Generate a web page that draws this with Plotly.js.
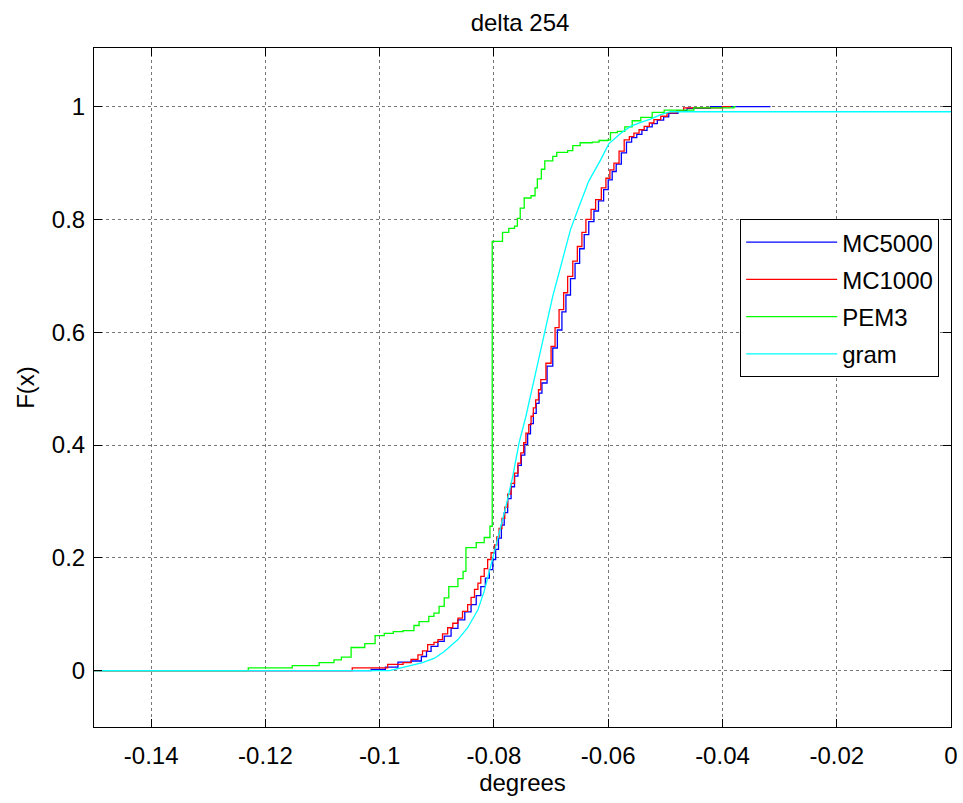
<!DOCTYPE html>
<html>
<head>
<meta charset="utf-8">
<script src="https://cdn.plot.ly/plotly-3.0.1.min.js"></script>
<style>html,body{margin:0;padding:0;background:#fff;}#chart{width:963px;height:803px;}</style>
</head>
<body>
<div id="chart"></div>
<script>
const seriesNames = ["MC5000", "MC1000", "PEM3", "gram"];
const seriesColors = ["#0000ff", "#ff0000", "#00ff00", "#00ffff"];

const mc5000X = [-0.15,-0.1015,-0.0990,-0.0968,-0.0945,-0.0927,-0.0918,-0.0910,-0.0898,-0.0887,-0.0875,-0.0863,-0.0851,-0.0840,-0.0831,-0.0823,-0.0815,-0.0808,-0.0802,-0.0797,-0.0792,-0.0787,-0.0782,-0.0776,-0.0770,-0.0764,-0.0758,-0.0752,-0.0746,-0.0741,-0.0736,-0.0731,-0.0726,-0.0721,-0.0716,-0.0707,-0.0697,-0.0689,-0.0681,-0.0674,-0.0666,-0.0658,-0.0650,-0.0642,-0.0634,-0.0625,-0.0617,-0.0608,-0.0600,-0.0593,-0.0586,-0.0577,-0.0568,-0.0559,-0.0550,-0.0541,-0.0532,-0.0523,-0.0514,-0.0503,-0.0494,-0.0478,-0.0462,-0.0421,-0.0316];
const mc5000Y = [0,0.002,0.006,0.015,0.017,0.025,0.034,0.043,0.052,0.061,0.075,0.090,0.104,0.117,0.133,0.149,0.164,0.179,0.197,0.215,0.235,0.258,0.280,0.305,0.326,0.345,0.364,0.382,0.401,0.420,0.438,0.456,0.474,0.492,0.510,0.540,0.572,0.604,0.636,0.666,0.695,0.722,0.748,0.773,0.796,0.815,0.833,0.853,0.870,0.885,0.898,0.918,0.937,0.945,0.951,0.958,0.964,0.970,0.976,0.982,0.988,0.993,0.997,1.0,1.0];

const mc1000X = [-0.15,-0.1048,-0.0986,-0.0959,-0.0945,-0.0933,-0.0925,-0.0916,-0.0905,-0.0898,-0.0890,-0.0881,-0.0872,-0.0863,-0.0855,-0.0846,-0.0840,-0.0834,-0.0828,-0.0823,-0.0817,-0.0811,-0.0805,-0.0799,-0.0795,-0.0791,-0.0786,-0.0781,-0.0776,-0.0770,-0.0764,-0.0758,-0.0753,-0.0748,-0.0744,-0.0739,-0.0735,-0.0731,-0.0727,-0.0722,-0.0718,-0.0709,-0.0700,-0.0693,-0.0686,-0.0678,-0.0671,-0.0662,-0.0654,-0.0646,-0.0639,-0.0630,-0.0622,-0.0612,-0.0604,-0.0597,-0.0590,-0.0581,-0.0572,-0.0563,-0.0555,-0.0546,-0.0537,-0.0528,-0.0520,-0.0508,-0.0497,-0.0480,-0.0468,-0.0400,-0.0385];
const mc1000Y = [0,0.005,0.011,0.014,0.020,0.028,0.035,0.046,0.050,0.055,0.065,0.076,0.084,0.093,0.105,0.117,0.130,0.144,0.155,0.167,0.181,0.197,0.209,0.223,0.237,0.252,0.270,0.290,0.313,0.332,0.350,0.368,0.386,0.404,0.421,0.436,0.451,0.466,0.480,0.498,0.516,0.545,0.575,0.608,0.640,0.670,0.699,0.726,0.752,0.777,0.800,0.818,0.835,0.856,0.873,0.888,0.900,0.921,0.941,0.947,0.953,0.959,0.965,0.971,0.977,0.983,0.989,0.993,0.998,1.0,1.0];

const pem3X = [-0.15,-0.1230,-0.1153,-0.1106,-0.1080,-0.1067,-0.1050,-0.1026,-0.1008,-0.0992,-0.0976,-0.0959,-0.0940,-0.0931,-0.0914,-0.0905,-0.0896,-0.0887,-0.0879,-0.0863,-0.0854,-0.0849,-0.0831,-0.0817,-0.0807,-0.0803,-0.0785,-0.0774,-0.0764,-0.0759,-0.0754,-0.0747,-0.0735,-0.0728,-0.0724,-0.0717,-0.0711,-0.0697,-0.0690,-0.0671,-0.0662,-0.0649,-0.0628,-0.0616,-0.0601,-0.0596,-0.0584,-0.0571,-0.0558,-0.0543,-0.0523,-0.0502,-0.0450,-0.0380,-0.0377];
const pem3Y = [0,0.005,0.009,0.014,0.019,0.024,0.041,0.048,0.062,0.066,0.069,0.071,0.080,0.087,0.096,0.102,0.114,0.129,0.149,0.163,0.176,0.218,0.227,0.236,0.256,0.761,0.777,0.784,0.788,0.802,0.820,0.838,0.842,0.856,0.872,0.889,0.904,0.912,0.919,0.922,0.931,0.936,0.937,0.940,0.941,0.954,0.956,0.964,0.975,0.981,0.990,0.994,0.998,1.0,1.0];

const gramX = [-0.15,-0.0983,-0.0957,-0.0925,-0.0904,-0.0887,-0.0863,-0.0846,-0.0828,-0.0817,-0.0808,-0.0802,-0.0790,-0.0779,-0.0767,-0.0756,-0.0744,-0.0730,-0.0712,-0.0697,-0.0683,-0.0666,-0.0651,-0.0634,-0.0613,-0.0599,-0.0578,-0.0561,-0.0543,-0.0526,-0.0508,-0.0491,0];
const gramY = [0,0,0.006,0.014,0.022,0.034,0.055,0.076,0.108,0.141,0.176,0.200,0.250,0.291,0.345,0.404,0.451,0.516,0.599,0.664,0.717,0.782,0.823,0.868,0.906,0.934,0.953,0.965,0.972,0.978,0.986,0.991,0.991];

const xTickVals = [-0.14,-0.12,-0.1,-0.08,-0.06,-0.04,-0.02,0];
const xTickText = ["-0.14","-0.12","-0.1","-0.08","-0.06","-0.04","-0.02","0"];
const yTickVals = [0,0.2,0.4,0.6,0.8,1];
const yTickText = ["0","0.2","0.4","0.6","0.8","1"];

const xs = [mc5000X, mc1000X, pem3X, gramX];
const ys = [mc5000Y, mc1000Y, pem3Y, gramY];
const shapes = ["hv","hv","hv","linear"];

const traces = seriesNames.map((n,i)=>({
  x: xs[i], y: ys[i], type:'scatter', mode:'lines', name:n,
  legendgroup: n,
  line:{color:seriesColors[i], width:1.3, shape:shapes[i]}
}));

const font = "Arial, 'Liberation Sans', sans-serif";
const axisCommon = {
  showline:true, linecolor:'#000', linewidth:1, mirror:'ticks',
  ticks:'inside', ticklen:8, tickcolor:'#000', tickwidth:1,
  showgrid:true, gridcolor:'#777', griddash:'dot', gridwidth:1,
  zeroline:false, tickfont:{family:font, size:24, color:'#000'}
};

const layout = {
  width:963, height:803,
  margin:{l:94, r:12, t:48, b:76},
  paper_bgcolor:'#fff', plot_bgcolor:'#fff',
  title:{text:'delta 254', font:{family:font, size:24, color:'#000'}, x:0.54, xanchor:'center', y:0.972, yanchor:'middle', yref:'container'},
  xaxis:Object.assign({}, axisCommon, {
    range:[-0.15, 0], tickvals:xTickVals, ticktext:xTickText,
    ticklabelstandoff:7,
    title:{text:'degrees', font:{family:font, size:24, color:'#000'}, standoff:0}
  }),
  yaxis:Object.assign({}, axisCommon, {
    range:[-0.1, 1.104], tickvals:yTickVals, ticktext:yTickText,
    ticklabelstandoff:3,
    title:{text:'F(x)', font:{family:font, size:24, color:'#000'}, standoff:10}
  }),
  showlegend:true,
  legend:{x:0.754, y:0.748, xanchor:'left', yanchor:'top', bgcolor:'#fff', bordercolor:'#000', borderwidth:1,
    font:{family:font, size:24, color:'#000'}, itemwidth:91, traceorder:'grouped', tracegroupgap:3},
};

Plotly.newPlot('chart', traces, layout, {displayModeBar:false, staticPlot:true});
</script>
</body>
</html>
